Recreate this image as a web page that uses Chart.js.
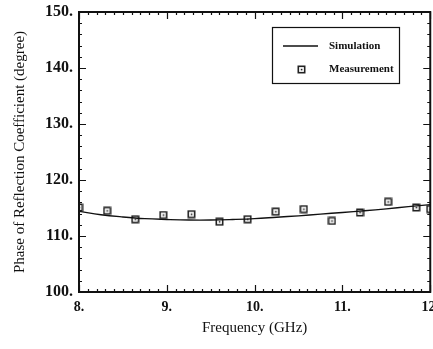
<!DOCTYPE html>
<html>
<head>
<meta charset="utf-8">
<script src="https://cdn.jsdelivr.net/npm/chart.js@4.4.0/dist/chart.umd.min.js"></script>
<style>
    html, body { margin: 0; padding: 0; background: #fff; overflow: hidden; }
    #wrap { width: 446px; height: 349px; }
</style>
</head>
<body>
<div id="wrap"><canvas id="phaseChart"></canvas></div>
<script>
// simulated phase curve (GHz, degree)
const simFreq = [8.0, 8.25, 8.5, 8.75, 9.0, 9.25, 9.5, 9.75, 10.0, 10.25, 10.5, 10.75, 11.0, 11.25, 11.5, 11.75, 12.0];
const simPhase = [114.4, 113.8, 113.4, 113.1, 112.95, 112.85, 112.85, 112.95, 113.1, 113.35, 113.6, 113.9, 114.2, 114.5, 114.85, 115.25, 115.6];

// measured points
const measFreq = [8.0, 8.32, 8.64, 8.96, 9.28, 9.6, 9.92, 10.24, 10.56, 10.88, 11.2, 11.52, 11.84, 12.0];
const measPhase = [115.1, 114.5, 113.0, 113.75, 113.9, 112.55, 113.0, 114.35, 114.8, 112.7, 114.2, 116.1, 115.1, 114.8];

const xTicks = [8, 9, 10, 11, 12];
const yTicks = [100, 110, 120, 130, 140, 150];

const serif = '"Liberation Serif", "Times New Roman", serif';

// little square with a dot in the middle
function squareMarker() {
    const c = document.createElement('canvas');
    c.width = 9; c.height = 9;
    const g = c.getContext('2d');
    g.fillStyle = '#fff';
    g.fillRect(1, 1, 7, 7);
    g.strokeStyle = '#222';
    g.lineWidth = 1.6;
    g.strokeRect(1.3, 1.3, 6.4, 6.4);
    g.fillStyle = '#222';
    g.fillRect(3.8, 3.8, 1.6, 1.6);
    return c;
}
const marker = squareMarker();

// inward ticks on all four sides of the frame, plus the boxed legend
const frameTicks = {
    id: 'frameTicks',
    afterDatasetsDraw(chart) {
        const { ctx, chartArea: a, scales: { x, y } } = chart;
        ctx.save();
        ctx.strokeStyle = '#111';
        ctx.lineWidth = 2;
        ctx.strokeRect(a.left, a.top, a.right - a.left, a.bottom - a.top);
        ctx.lineWidth = 1.2;
        ctx.beginPath();
        for (let i = 0; i <= 40; i++) {
            const v = 8 + i * 0.1;
            const px = Math.round(x.getPixelForValue(v)) + 0.5;
            const len = i % 10 === 0 ? 7 : 3;
            ctx.moveTo(px, a.bottom); ctx.lineTo(px, a.bottom - len);
            ctx.moveTo(px, a.top); ctx.lineTo(px, a.top + len);
        }
        for (let i = 0; i <= 25; i++) {
            const v = 100 + i * 2;
            const py = Math.round(y.getPixelForValue(v)) + 0.5;
            const len = i % 5 === 0 ? 7 : 3;
            ctx.moveTo(a.left, py); ctx.lineTo(a.left + len, py);
            ctx.moveTo(a.right, py); ctx.lineTo(a.right - len, py);
        }
        ctx.stroke();

        const bx = 272, by = 27, bw = 127, bh = 56;
        ctx.lineWidth = 1.2;
        ctx.strokeRect(bx + 0.5, by + 0.5, bw, bh);
        ctx.lineWidth = 1.3;
        ctx.beginPath();
        ctx.moveTo(bx + 11, by + 19); ctx.lineTo(bx + 46, by + 19);
        ctx.stroke();
        ctx.drawImage(marker, bx + 25, by + 38);
        ctx.fillStyle = '#111';
        ctx.font = 'bold 11px ' + serif;
        ctx.textBaseline = 'middle';
        ctx.fillText('Simulation', bx + 57, by + 19);
        ctx.fillText('Measurement', bx + 57, by + 42);
        ctx.restore();
    }
};

new Chart(document.getElementById('phaseChart'), {
    type: 'line',
    data: {
        datasets: [
            {
                label: 'Simulation',
                data: simFreq.map((f, i) => ({ x: f, y: simPhase[i] })),
                borderColor: '#111',
                borderWidth: 1.4,
                pointRadius: 0,
                tension: 0.4,
                fill: false
            },
            {
                label: 'Measurement',
                data: measFreq.map((f, i) => ({ x: f, y: measPhase[i] })),
                showLine: false,
                pointStyle: marker,
                pointRadius: 4
            }
        ]
    },
    options: {
        responsive: true,
        maintainAspectRatio: false,
        animation: false,
        layout: { padding: { top: 12, right: 0, left: 0, bottom: 0 } },
        plugins: {
            legend: { display: false },
            tooltip: { enabled: false }
        },
        scales: {
            x: {
                type: 'linear',
                min: 8, max: 12,
                afterBuildTicks: s => { s.ticks = xTicks.map(v => ({ value: v })); },
                afterFit: s => { s.height = 57; },
                ticks: {
                    callback: v => v + '.',
                    color: '#111',
                    padding: 7,
                    maxRotation: 0,
                    font: { family: serif, size: 14, weight: 'bold' }
                },
                grid: { display: false, drawTicks: false },
                border: { display: false },
                title: {
                    display: true,
                    text: 'Frequency (GHz)',
                    color: '#111',
                    padding: { top: 7, bottom: 12 },
                    font: { family: serif, size: 15 }
                }
            },
            y: {
                min: 100, max: 150,
                afterBuildTicks: s => { s.ticks = yTicks.map(v => ({ value: v })); },
                afterFit: s => {
                    s.width = 79;
                    s.paddingTop = 0;
                    s.paddingBottom = 0;
                },
                ticks: {
                    callback: v => v + '.',
                    color: '#111',
                    padding: 6,
                    font: { family: serif, size: 16, weight: 'bold' }
                },
                grid: { display: false, drawTicks: false },
                border: { display: false },
                title: {
                    display: true,
                    text: 'Phase of Reflection Coefficient (degree)',
                    color: '#111',
                    padding: { bottom: 0, top: 11 },
                    font: { family: serif, size: 15 }
                }
            }
        }
    },
    plugins: [frameTicks]
});
</script>
</body>
</html>
